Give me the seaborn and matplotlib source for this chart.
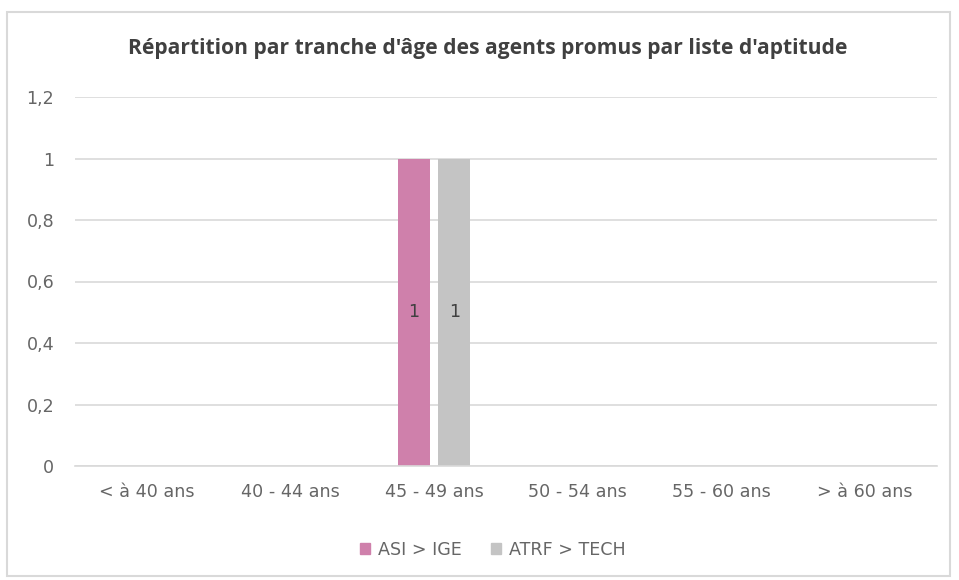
import matplotlib
matplotlib.use("Agg")
import matplotlib.pyplot as plt
import seaborn as sns
import pandas as pd
from matplotlib.ticker import FuncFormatter
from matplotlib.patches import Rectangle

categories = ["< à 40 ans", "40 - 44 ans", "45 - 49 ans", "50 - 54 ans", "55 - 60 ans", "> à 60 ans"]
series_names = ["ASI > IGE", "ATRF > TECH"]
asi_ige = [0, 0, 1, 0, 0, 0]
atrf_tech = [0, 0, 1, 0, 0, 0]
yticks = [0, 0.2, 0.4, 0.6, 0.8, 1.0, 1.2]
title = "Répartition par tranche d'âge des agents promus par liste d'aptitude"
colors = ["#CF80AB", "#C4C4C4"]

sns.set_theme(style="white")
plt.rcParams['font.family'] = ['DejaVu Sans']

df = pd.DataFrame({
    "cat": categories * 2,
    "serie": [series_names[0]] * len(categories) + [series_names[1]] * len(categories),
    "val": asi_ige + atrf_tech,
})

W, H = 959, 580
fig = plt.figure(figsize=(W / 100, H / 100), dpi=100)
ax = fig.add_axes([75 / W, 1 - 466 / H, (937 - 75) / W, (466 - 97) / H])

sns.barplot(data=df, x="cat", y="val", hue="serie", order=categories,
            hue_order=series_names, palette=colors, width=0.5625, gap=0.21,
            ax=ax, legend=False, saturation=1, linewidth=0)

fs = 12.6
ax.set_ylim(0, 1.2)
ax.set_yticks(yticks)
ax.yaxis.set_major_formatter(FuncFormatter(lambda v, p: ("%g" % v).replace(".", ",")))
ax.grid(axis="y", color="#D9D9D9", linewidth=1.2)
ax.set_axisbelow(True)
for s in ["top", "right", "left"]:
    ax.spines[s].set_visible(False)
ax.spines["bottom"].set_color("#D9D9D9")
ax.spines["bottom"].set_linewidth(1.2)
ax.set_xlabel("")
ax.set_ylabel("")
ax.tick_params(axis="both", colors="#666666", labelsize=fs, length=0)
ax.tick_params(axis="x", pad=12)
ax.tick_params(axis="y", pad=15)

for cont in ax.containers:
    labels = ["%g" % b.get_height() if b.get_height() > 0 else "" for b in cont]
    ax.bar_label(cont, labels=labels, label_type="center", color="#404040", fontsize=fs)

t = fig.text(487.5 / W, 1 - 54 / H, title, ha="center", va="baseline", fontsize=13,
             color="#404040", fontweight="bold", family=["Open Sans", "DejaVu Sans"])
fig.canvas.draw()
r = fig.canvas.get_renderer()
w = t.get_window_extent(r).width
t.set_fontsize(13 * 711 / w)

handles = [Rectangle((0, 0), 1, 1, color=c) for c in colors]
fig.legend(handles, series_names, loc="center", bbox_to_anchor=(493 / W, 1 - 550 / H), ncol=2,
           frameon=False, fontsize=fs, handlelength=0.56, handleheight=0.56,
           handletextpad=0.45, columnspacing=1.7, labelcolor="#666666",
           borderpad=0, borderaxespad=0)

fig.add_artist(Rectangle((7 / W, 1 - 576 / H), (950 - 7) / W, (576 - 12) / H,
                         transform=fig.transFigure, fill=False,
                         edgecolor="#D9D9D9", linewidth=1.5))

fig.savefig("out.png", dpi=100)
